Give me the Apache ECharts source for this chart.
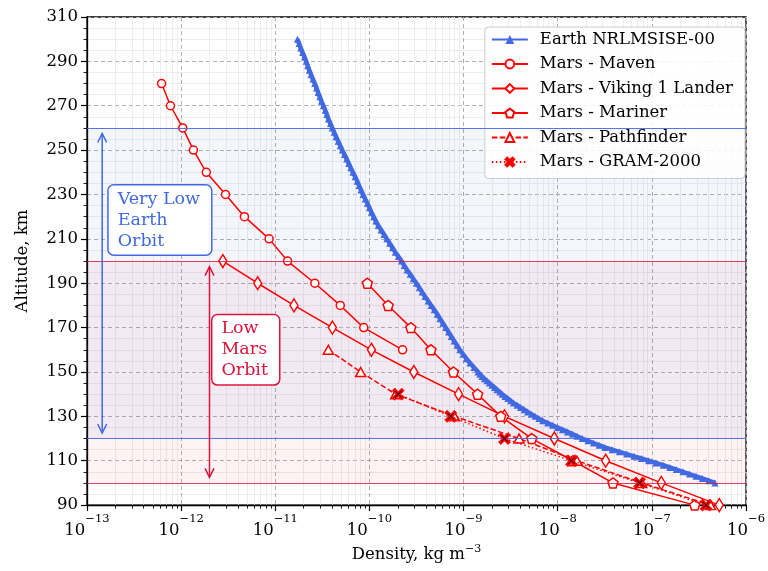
<!DOCTYPE html>
<html><head><meta charset="utf-8">
<script src="https://cdn.jsdelivr.net/npm/echarts@6/dist/echarts.min.js"></script>
<style>html,body{margin:0;padding:0;background:#fff}#c{width:768px;height:571px}</style>
</head><body><div id="c"></div>
<script>
// ---------------- data ----------------
const earthAlt = [100,101,102,103,104,105,106,107,108,109,110,111,112,113,114,115,116,117,118,119,120,121,122,123,124,125,126,127,128,129,130,131,132,133,134,135,136,137,138,139,140,141,142,143,144,145,146,147,148,149,150,
152,154,156,158,160,162,164,166,168,170,172,174,176,178,180,182,184,186,188,190,192,194,196,198,200,202,204,206,208,210,212,214,216,218,220,222,224,226,228,230,232,234,236,238,240,242,244,246,248,250,252,254,256,258,260,262,264,266,268,270,272,274,276,278,280,282,284,286,288,290,292,294,296,298,300];
const earthDensity = [4.68e-7,4.01e-7,3.43e-7,2.94e-7,2.51e-7,2.14e-7,1.82e-7,1.55e-7,1.32e-7,1.10e-7,9.23e-8,7.73e-8,6.46e-8,5.41e-8,4.52e-8,3.78e-8,3.16e-8,2.75e-8,2.40e-8,2.09e-8,1.82e-8,1.61e-8,1.43e-8,1.27e-8,1.12e-8,9.95e-9,8.81e-9,7.82e-9,6.92e-9,6.31e-9,5.75e-9,5.25e-9,4.79e-9,4.40e-9,4.03e-9,3.70e-9,3.39e-9,3.16e-9,2.95e-9,2.75e-9,2.57e-9,2.42e-9,2.26e-9,2.13e-9,2.00e-9,1.88e-9,1.77e-9,1.66e-9,1.57e-9,1.49e-9,1.42e-9,
1.29e-9,1.17e-9,1.07e-9,9.89e-10,9.12e-10,8.51e-10,7.94e-10,7.41e-10,6.92e-10,6.46e-10,6.03e-10,5.62e-10,5.25e-10,4.88e-10,4.52e-10,4.20e-10,3.89e-10,3.63e-10,3.39e-10,3.15e-10,2.92e-10,2.71e-10,2.51e-10,2.34e-10,2.19e-10,2.03e-10,1.88e-10,1.76e-10,1.64e-10,1.53e-10,1.43e-10,1.33e-10,1.24e-10,1.17e-10,1.11e-10,1.05e-10,1.00e-10,9.51e-11,9.02e-11,8.55e-11,8.13e-11,7.76e-11,7.41e-11,7.05e-11,6.68e-11,6.34e-11,6.03e-11,5.73e-11,5.43e-11,5.15e-11,4.90e-11,4.66e-11,4.42e-11,4.22e-11,4.03e-11,3.85e-11,3.67e-11,3.53e-11,3.39e-11,3.24e-11,3.09e-11,2.97e-11,2.85e-11,2.74e-11,2.63e-11,2.51e-11,2.40e-11,2.30e-11,2.21e-11,2.13e-11,2.04e-11,1.95e-11,1.86e-11,1.79e-11,1.72e-11];

const mavenAlt = [280,270,260,250,240,230,220,210,200,190,180,170,160];
const mavenDensity = [6.2e-13,7.7e-13,1.04e-12,1.35e-12,1.85e-12,2.96e-12,4.7e-12,8.6e-12,1.35e-11,2.63e-11,4.9e-11,8.7e-11,2.25e-10];

const vikingAlt = [200,190,180,170,160,150,140,130,120,110,100,90];
const vikingDensity = [2.77e-12,6.5e-12,1.58e-11,4.04e-11,1.05e-10,2.96e-10,8.85e-10,2.72e-9,9.2e-9,3.23e-8,1.26e-7,5.2e-7];

const marinerAlt = [190,180,170,160,150,140,130,120,110,100,90];
const marinerDensity = [9.5e-11,1.58e-10,2.75e-10,4.5e-10,7.8e-10,1.41e-9,2.48e-9,5.3e-9,1.45e-8,3.86e-8,2.85e-7];

const pathfinderAlt = [160,150,140,130,120,110,100,90];
const pathfinderDensity = [3.66e-11,8.07e-11,1.9e-10,8.0e-10,3.88e-9,1.6e-8,7.8e-8,4.2e-7];

const gramAlt = [140,130,120,110,100,90];
const gramDensity = [2.02e-10,7.3e-10,2.72e-9,1.4e-8,7.4e-8,3.76e-7];

const seriesNames = ['Earth NRLMSISE-00','Mars - Maven','Mars - Viking 1 Lander','Mars - Mariner','Mars - Pathfinder','Mars - GRAM-2000'];

const yTicks = [90,110,130,150,170,190,210,230,250,270,290,310];
const yMinorTicks = [95,100,105,115,120,125,135,140,145,155,160,165,175,180,185,195,200,205,215,220,225,235,240,245,255,260,265,275,280,285,295,300,305];
const xDecades = [1e-13,1e-12,1e-11,1e-10,1e-9,1e-8,1e-7];
const xMinorMultipliers = [2,3,4,5,6,7,8,9];

// bands / annotations (data units)
const veoBand = [120, 260];
const lmoBand = [100, 200];
const arrowX = [1.45e-13, 2.0e-12];
const arrowLow = [122.5, 102.5];
const arrowHigh = [257.5, 197.5];
const boxX = [1.7e-13, 2.15e-12];
const boxY = [218.5, 160];
const boxText = ['Very Low\nEarth\nOrbit', 'Low\nMars\nOrbit'];

// ---------------- styling ----------------
const F = 'DejaVu Serif';
const BLUE = '#4169e1';
const CRIMSON = '#dc143c';
const RED = '#ff0000';
const xMinorTicks = [];
xDecades.forEach(d => xMinorMultipliers.forEach(m => xMinorTicks.push(+(d * m).toPrecision(3))));

const pair = (xs, ys) => xs.map((x, i) => [x, ys[i]]);

const PENTAGON = 'path://M0,-1 L0.951,-0.309 L0.588,0.809 L-0.588,0.809 L-0.951,-0.309 Z';
const FAT_X = 'path://M-1,-0.6 L-0.6,-1 L0,-0.4 L0.6,-1 L1,-0.6 L0.4,0 L1,0.6 L0.6,1 L0,0.4 L-0.6,1 L-1,0.6 L-0.4,0 Z';
const THIN_X = 'path://M-1,-0.82 L-0.82,-1 L0,-0.18 L0.82,-1 L1,-0.82 L0.18,0 L1,0.82 L0.82,1 L0,0.18 L-0.82,1 L-1,0.82 L-0.18,0 Z';

function redSeries(name, xs, ys, symbol, size, lineType) {
  return {
    type: 'line', name, data: pair(xs, ys),
    symbol, symbolSize: size, showAllSymbol: true,
    lineStyle: { color: RED, width: 1.5, type: lineType || 'solid' },
    itemStyle: { color: '#ffffff', borderColor: RED, borderWidth: 1.5 },
    emphasis: { disabled: true }, z: 4, animation: false
  };
}

const chart = echarts.init(document.getElementById('c'), null, { renderer: 'canvas' });

const option = {
  animation: false,
  backgroundColor: '#ffffff',
  textStyle: { fontFamily: F },
  grid: { left: 87, top: 17, width: 662, height: 493, show: true, borderColor: '#000', borderWidth: 1.3, backgroundColor: 'transparent' },
  legend: {
    data: seriesNames, orient: 'vertical', right: 23, top: 27,
    backgroundColor: 'rgba(255,255,255,0.85)', borderColor: '#cccccc', borderWidth: 1, borderRadius: 4,
    padding: [4, 12, 8, 6], itemWidth: 36, itemHeight: 11, itemGap: 7.5,
    textStyle: { fontFamily: F, fontSize: 16.5, color: '#000', padding: [0, 0, 0, 7] }
  },
  xAxis: [
    {
      type: 'log', logBase: 10, min: 1e-13, max: 1e-6, position: 'bottom',
      name: 'Density, kg m{s|−3}', nameLocation: 'middle', nameGap: 33,
      nameTextStyle: { fontFamily: F, fontSize: 16.5, color: '#000', rich: { s: { fontFamily: F, fontSize: 11, verticalAlign: 'top', color: '#000', lineHeight: 22 } }, lineHeight: 22 },
      axisLine: { show: true, lineStyle: { color: '#000', width: 1.3 } },
      axisTick: { show: true, inside: false, length: 6, lineStyle: { color: '#000', width: 1.2 } },
      axisLabel: {
        margin: 8,
        formatter: v => '{b|10}{s|−' + Math.round(-Math.log10(v)) + '}',
        rich: {
          b: { fontFamily: F, fontSize: 16.5, color: '#000', lineHeight: 26, verticalAlign: 'bottom' },
          s: { fontFamily: F, fontSize: 11.5, color: '#000', lineHeight: 26, verticalAlign: 'top' }
        }
      },
      splitLine: { show: true, lineStyle: { color: '#b0b0b0', width: 1, type: [4, 3] } }
    },
    {
      type: 'log', logBase: 10, min: 1e-13, max: 1e-6, position: 'bottom',
      axisLine: { show: false },
      axisTick: { show: true, inside: false, length: 3.5, customValues: xMinorTicks, lineStyle: { color: '#000', width: 0.9 } },
      axisLabel: { show: false },
      splitLine: { show: true, lineStyle: { color: '#e8e8e8', width: 0.8 } }
    }
  ],
  yAxis: [
    {
      type: 'value', min: 90, max: 310, position: 'left',
      name: 'Altitude, km', nameLocation: 'middle', nameGap: 56, nameRotate: 90,
      nameTextStyle: { fontFamily: F, fontSize: 16.5, color: '#000' },
      axisLine: { show: true, lineStyle: { color: '#000', width: 1.3 } },
      axisTick: { show: true, inside: false, length: 6, customValues: yTicks, lineStyle: { color: '#000', width: 1.2 } },
      axisLabel: { margin: 9, customValues: yTicks, fontFamily: F, fontSize: 16.5, color: '#000' },
      splitLine: { show: true, lineStyle: { color: '#b0b0b0', width: 1, type: [4, 3] } }
    },
    {
      type: 'value', min: 90, max: 310, position: 'left',
      axisLine: { show: false },
      axisTick: { show: true, inside: false, length: 3.5, customValues: yMinorTicks, lineStyle: { color: '#000', width: 0.9 } },
      axisLabel: { show: false },
      splitLine: { show: true, lineStyle: { color: '#e8e8e8', width: 0.8 } }
    }
  ],
  series: [
    {
      type: 'line', name: seriesNames[0], data: pair(earthDensity, earthAlt),
      symbol: 'triangle', symbolSize: 7, showAllSymbol: true,
      lineStyle: { color: BLUE, width: 4.5 }, itemStyle: { color: BLUE },
      emphasis: { disabled: true }, z: 3,
      markArea: {
        silent: true,
        data: [
          [{ yAxis: veoBand[0], itemStyle: { color: 'rgba(65,105,225,0.06)' } }, { yAxis: veoBand[1] }],
          [{ yAxis: lmoBand[0], itemStyle: { color: 'rgba(220,20,60,0.05)' } }, { yAxis: lmoBand[1] }]
        ]
      },
      markLine: {
        silent: true, symbol: 'none', label: { show: false },
        lineStyle: { type: 'solid', width: 1 },
        data: [
          { yAxis: veoBand[0], lineStyle: { color: BLUE, width: 1, type: 'solid', opacity: 0.9 } },
          { yAxis: veoBand[1], lineStyle: { color: BLUE, width: 1, type: 'solid', opacity: 0.9 } },
          { yAxis: lmoBand[0], lineStyle: { color: CRIMSON, width: 1, type: 'solid', opacity: 0.8 } },
          { yAxis: lmoBand[1], lineStyle: { color: CRIMSON, width: 1, type: 'solid', opacity: 0.8 } }
        ]
      }
    },
    redSeries(seriesNames[1], mavenDensity, mavenAlt, 'circle', 8),
    redSeries(seriesNames[2], vikingDensity, vikingAlt, 'diamond', [8, 13]),
    redSeries(seriesNames[3], marinerDensity, marinerAlt, PENTAGON, [10, 10]),
    redSeries(seriesNames[4], pathfinderDensity, pathfinderAlt, 'triangle', [10, 9], [5.5, 2.4]),
    {
      type: 'line', name: seriesNames[5], data: pair(gramDensity, gramAlt),
      symbol: FAT_X, symbolSize: 12, showAllSymbol: true,
      lineStyle: { color: RED, width: 1.5, type: [1.5, 2.5] },
      itemStyle: { color: RED, borderColor: RED, borderWidth: 0.8 },
      emphasis: { disabled: true }, z: 5
    },
    {
      type: 'scatter', data: pair(gramDensity, gramAlt),
      symbol: THIN_X, symbolSize: 7, itemStyle: { color: '#000' }, silent: true, z: 6
    },
    {
      type: 'custom', silent: true, z: 6,
      data: arrowX.map((x, i) => [x, arrowLow[i], arrowHigh[i]]),
      encode: { x: 0, y: [1, 2] },
      renderItem: (params, api) => {
        const col = params.dataIndex === 0 ? BLUE : CRIMSON;
        const x = api.value(0);
        const p1 = api.coord([x, api.value(1)]);
        const p2 = api.coord([x, api.value(2)]);
        const h = 9, w = 4.5;
        const st = { stroke: col, lineWidth: 1.5, fill: null };
        return { type: 'group', children: [
          { type: 'line', shape: { x1: p1[0], y1: p1[1], x2: p2[0], y2: p2[1] }, style: st },
          { type: 'polyline', shape: { points: [[p2[0] - w, p2[1] + h], [p2[0], p2[1]], [p2[0] + w, p2[1] + h]] }, style: st },
          { type: 'polyline', shape: { points: [[p1[0] - w, p1[1] - h], [p1[0], p1[1]], [p1[0] + w, p1[1] - h]] }, style: st }
        ] };
      }
    },
    {
      type: 'custom', silent: true, z: 7,
      data: boxX.map((x, i) => [x, boxY[i]]),
      encode: { x: 0, y: 1 },
      renderItem: (params, api) => {
        const i = params.dataIndex;
        const col = i === 0 ? BLUE : CRIMSON;
        const p = api.coord([api.value(0), api.value(1)]);
        return {
          type: 'text', x: p[0], y: p[1],
          style: {
            text: boxText[i], fill: col, font: '17.5px "DejaVu Serif"',
            align: 'left', verticalAlign: 'middle', lineHeight: 21,
            backgroundColor: '#ffffff', borderColor: col, borderWidth: 1.5, borderRadius: 5,
            padding: [3, 11, 3, 9]
          }
        };
      }
    }
  ]
};
chart.setOption(option);
</script>
</body></html>
